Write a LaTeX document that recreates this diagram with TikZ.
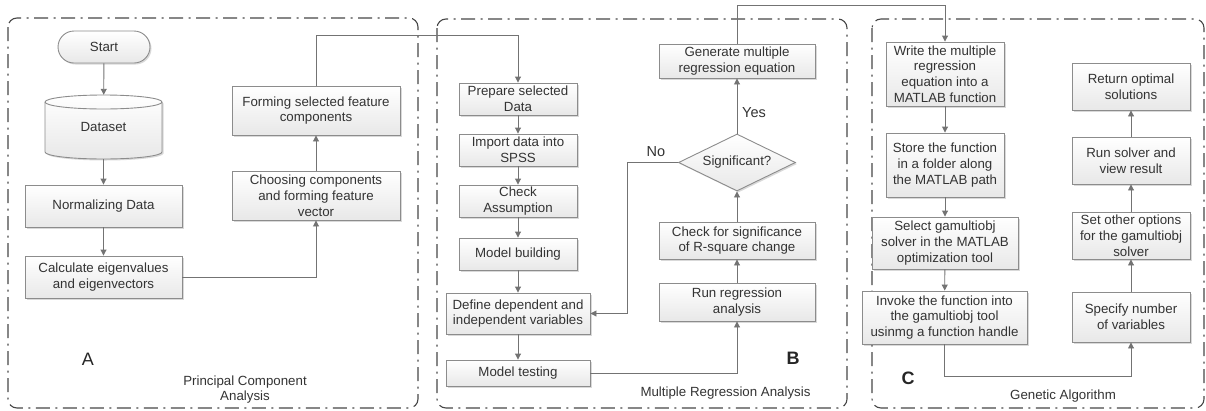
\documentclass[tikz,border=0pt]{standalone}
\usepackage{fontspec}
\setmainfont{Liberation Sans}
\usetikzlibrary{shapes.geometric,shadows,arrows.meta}

\definecolor{txt}{HTML}{333333}
\definecolor{edge}{HTML}{8C8C8C}
\definecolor{wire}{HTML}{737373}

\tikzset{
  every node/.style={font=\fontsize{13.3}{15.8}\selectfont, text=txt},
  procbox/.style={draw=edge, line width=0.9pt, top color=white, bottom color=black!9,
    inner sep=0pt, align=center,
    drop shadow={shadow xshift=1.5pt, shadow yshift=-1.5pt, opacity=0.25, fill=black!60}},
  wirearrow/.style={draw=wire, line width=0.9pt, -{Triangle[width=6pt,length=6pt]}},
  groupframe/.style={draw=black!72, line width=1.1pt, rounded corners=9pt,
    dash pattern=on 14pt off 5.5pt on 2pt off 5.5pt},
  biglabel/.style={font=\fontsize{18}{20}\selectfont, text=black!85},
  note/.style={font=\fontsize{14.5}{16}\selectfont}
}

\begin{document}
\begin{tikzpicture}[x=1pt, y=-1pt]
\useasboundingbox (0,0) rectangle (1206,410);

% group frames
\draw[groupframe] (8,18) rectangle (418,408);
\draw[groupframe] (437,19) rectangle (847,408);
\draw[groupframe] (872,19) rectangle (1204,408);

% ---- A: principal component analysis ----
\node[procbox, rounded corners=16pt, minimum width=92pt, minimum height=32pt] (start) at (104,47) {Start};

% dataset cylinder
\path[draw=edge, line width=0.9pt, top color=white, bottom color=black!9,
      drop shadow={shadow xshift=1.5pt, shadow yshift=-1.5pt, opacity=0.25, fill=black!60}]
  (45,102) -- (45,152) arc[start angle=180, end angle=360, x radius=58.5pt, y radius=7pt]
  -- (162,102) arc[start angle=0, end angle=180, x radius=58.5pt, y radius=7pt] -- cycle;
\draw[edge, line width=0.9pt] (45,102) arc[start angle=180, end angle=360, x radius=58.5pt, y radius=7pt];
\node[inner sep=0pt, minimum width=117pt, minimum height=64pt] (data) at (103.5,127) {Dataset};

\node[procbox, minimum width=157pt, minimum height=42pt] (norm) at (103.5,206) {Normalizing Data};
\node[procbox, minimum width=157pt, minimum height=42pt] (calc) at (103.5,277) {Calculate eigenvalues\\and eigenvectors};
\node[procbox, minimum width=168pt, minimum height=49pt] (choose) at (316,195.5) {Choosing components\\and forming feature\\vector};
\node[procbox, minimum width=168pt, minimum height=49pt] (form) at (316,110.5) {Forming selected feature\\components};

\node[biglabel] (labA) at (88,359) {A};
\node[align=center] (titA) at (245,389.5) {Principal Component\\Analysis};

% ---- B: multiple regression analysis ----
\node[procbox, minimum width=118pt, minimum height=32pt] (prep) at (518,99) {Prepare selected\\Data};
\node[procbox, minimum width=118pt, minimum height=32pt] (import) at (518,150) {Import data into\\SPSS};
\node[procbox, minimum width=118pt, minimum height=32pt] (check) at (518,201) {Check\\Assumption};
\node[procbox, minimum width=118pt, minimum height=32pt] (build) at (518,254) {Model building};
\node[procbox, minimum width=144pt, minimum height=41pt] (define) at (518,313.5) {Define dependent and\\independent variables};
\node[procbox, minimum width=144pt, minimum height=26pt] (mtest) at (518,373) {Model testing};
\node[procbox, minimum width=156pt, minimum height=38pt] (runreg) at (737,302) {Run regression\\analysis};
\node[procbox, minimum width=156pt, minimum height=37pt] (checksig) at (737,240.5) {Check for significance\\of R-square change};
\node[procbox, diamond, aspect=2.05, minimum width=117pt, minimum height=57pt] (sig) at (737,162.5) {Significant?};
\node[procbox, minimum width=156pt, minimum height=34pt] (gen) at (737,61) {Generate multiple\\regression equation};

\node[note] (yes) at (754,113) {Yes};
\node[note] (no) at (656,152) {No};
\node[biglabel, font=\fontsize{18}{20}\selectfont\bfseries] (labB) at (793,358) {B};
\node (titB) at (725.5,393) {Multiple Regression Analysis};

% ---- C: genetic algorithm ----
\node[procbox, minimum width=118pt, minimum height=64pt] (write) at (945,74) {Write the multiple\\regression\\equation into a\\MATLAB function};
\node[procbox, minimum width=118pt, minimum height=64pt] (store) at (945,165) {Store the function\\in a folder along\\the MATLAB path};
\node[procbox, minimum width=146pt, minimum height=52pt] (select) at (945,243) {Select gamultiobj\\solver in the MATLAB\\optimization tool};
\node[procbox, minimum width=165pt, minimum height=53pt] (invoke) at (944.5,317.5) {Invoke the function into\\the gamultiobj tool\\usinmg a function handle};
\node[procbox, minimum width=118pt, minimum height=47pt] (ret) at (1131,86.5) {Return optimal\\solutions};
\node[procbox, minimum width=118pt, minimum height=47pt] (runsol) at (1131,160.5) {Run solver and\\view result};
\node[procbox, minimum width=118pt, minimum height=47pt] (setopt) at (1131,235.5) {Set other options\\for the gamultiobj\\solver};
\node[procbox, minimum width=118pt, minimum height=50pt] (spec) at (1131,317) {Specify number\\of variables};

\node[biglabel, font=\fontsize{18}{20}\selectfont\bfseries] (labC) at (908,378) {C};
\node (titC) at (1063,396) {Genetic Algorithm};

% ---- connectors ----
\draw[wirearrow] (start) -- (data);
\draw[wirearrow] (data) -- (norm);
\draw[wirearrow] (norm) -- (calc);
\draw[wirearrow] (calc.east) -| (choose.south);
\draw[wirearrow] (choose) -- (form);
\draw[wirearrow] (form.north) -- (form.north |- 0,35) -| (prep.north);

\draw[wirearrow] (prep) -- (import);
\draw[wirearrow] (import) -- (check);
\draw[wirearrow] (check) -- (build);
\draw[wirearrow] (build) -- (define);
\draw[wirearrow] (define) -- (mtest);
\draw[wirearrow] (mtest.east) -| (runreg.south);
\draw[wirearrow] (runreg) -- (checksig);
\draw[wirearrow] (checksig) -- (sig);
\draw[wirearrow] (sig.west) -- ++(-51,0) |- (define.east);
\draw[wirearrow] (sig) -- (gen);
\draw[wirearrow] (gen.north) -- (gen.north |- 0,5) -| (write.north);

\draw[wirearrow] (write) -- (store);
\draw[wirearrow] (store) -- (select);
\draw[wirearrow] (select) -- (invoke);
\draw[wirearrow] (invoke.south) -- ++(0,32) -| (spec.south);
\draw[wirearrow] (spec) -- (setopt);
\draw[wirearrow] (setopt) -- (runsol);
\draw[wirearrow] (runsol) -- (ret);
\end{tikzpicture}
\end{document}
